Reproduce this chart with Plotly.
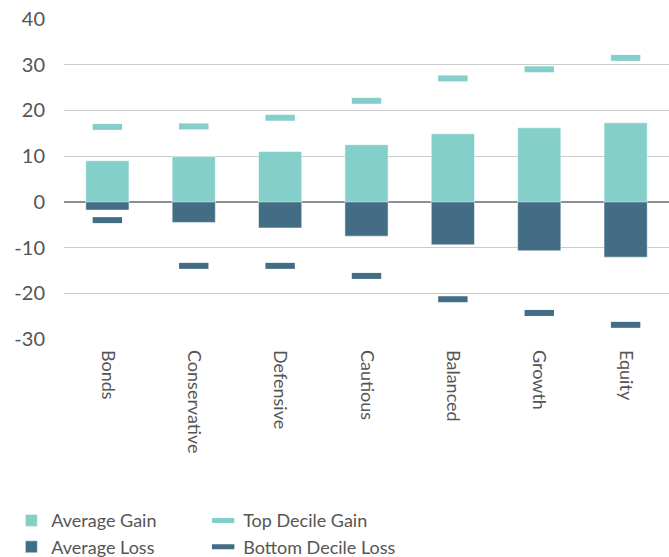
import plotly.graph_objects as go

categories = ["Bonds", "Conservative", "Defensive", "Cautious", "Balanced", "Growth", "Equity"]
avg_gain = [9.0, 9.9, 11.0, 12.5, 14.9, 16.2, 17.3]
avg_loss = [-1.8, -4.5, -5.7, -7.5, -9.4, -10.7, -12.1]
top_decile_gain = [16.4, 16.5, 18.4, 22.1, 27.0, 29.0, 31.5]
bottom_decile_loss = [-4.0, -14.0, -14.0, -16.2, -21.3, -24.3, -26.9]
y_ticks = [-30, -20, -10, 0, 10, 20, 30, 40]
y_tick_labels = ["-30", "-20", "-10", "0", "10", "20", "30", "40"]

LIGHT = "#84cfca"
DARK = "#426d84"
FONT = "Lato"
TXT = "#555555"

fig = go.Figure()
fig.add_trace(go.Bar(x=categories, y=avg_gain, name="Average Gain", marker_color=LIGHT,
                     marker_line=dict(color="rgba(255,255,255,0.5)", width=1), width=0.5,
                     legend="legend"))
fig.add_trace(go.Bar(x=categories, y=avg_loss, name="Average Loss", marker_color=DARK,
                     marker_line=dict(color="rgba(255,255,255,0.5)", width=1), width=0.5,
                     legend="legend"))
fig.add_trace(go.Scatter(x=categories, y=top_decile_gain, name="Top Decile Gain", mode="markers",
                         marker=dict(symbol="line-ew", size=21, line=dict(color=LIGHT, width=6)),
                         legend="legend2"))
fig.add_trace(go.Scatter(x=categories, y=bottom_decile_loss, name="Bottom Decile Loss", mode="markers",
                         marker=dict(symbol="line-ew", size=21, line=dict(color=DARK, width=6)),
                         legend="legend2"))

leg_common = dict(orientation="v", xref="paper", yref="paper", y=-0.51,
                  xanchor="left", yanchor="top",
                  font=dict(size=18, color=TXT, family=FONT), traceorder="normal",
                  itemwidth=30, tracegroupgap=0, bgcolor="rgba(0,0,0,0)")

fig.update_layout(
    width=669, height=557,
    margin=dict(l=64, r=0, t=19, b=218, autoexpand=False),
    barmode="relative",
    plot_bgcolor="white", paper_bgcolor="white",
    font=dict(family=FONT, color=TXT),
    showlegend=True,
    legend=dict(x=-0.087, **leg_common),
    legend2=dict(x=0.230, **leg_common),
)
fig.update_xaxes(tickangle=90, tickfont=dict(size=18, color=TXT, family=FONT),
                 showgrid=False, showline=False, ticks="", ticklabelstandoff=10)
fig.update_yaxes(range=[-30, 40], tickvals=y_ticks, ticktext=y_tick_labels,
                 tickfont=dict(size=20, color=TXT, family=FONT),
                 showgrid=True, gridcolor="#cccccc", gridwidth=1,
                 zeroline=True, zerolinecolor="#8a9196", zerolinewidth=1.5, ticks="", ticklabelstandoff=18)

fig.write_html("out.html")
